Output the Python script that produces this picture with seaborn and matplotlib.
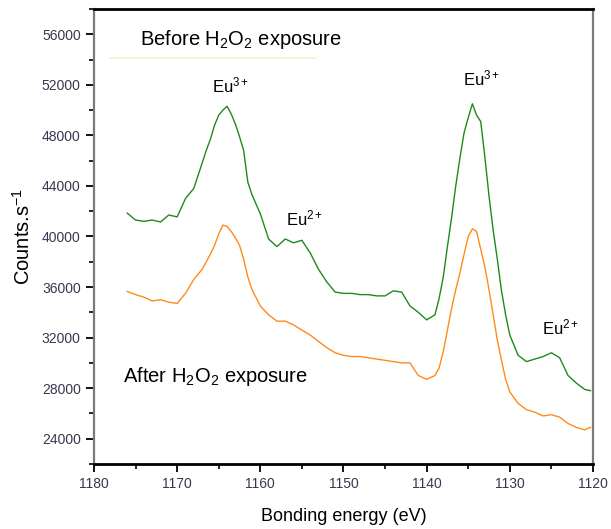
import numpy as np
import pandas as pd
import seaborn as sns
import matplotlib.pyplot as plt
from matplotlib.ticker import MultipleLocator

energy = [1176, 1175, 1174, 1173, 1172, 1171, 1170, 1169, 1168, 1167,
          1166.5, 1166, 1165.5, 1165, 1164.5, 1164, 1163.5, 1163, 1162.5, 1162,
          1161.5, 1161, 1160, 1159, 1158, 1157, 1156, 1155, 1154, 1153,
          1152, 1151, 1150, 1149, 1148, 1147, 1146, 1145, 1144, 1143,
          1142, 1141, 1140, 1139, 1138.5, 1138, 1137.5, 1137, 1136.5, 1136,
          1135.5, 1135, 1134.5, 1134, 1133.5, 1133, 1132.5, 1132, 1131.5, 1131,
          1130.5, 1130, 1129, 1128, 1127, 1126, 1125, 1124, 1123, 1122,
          1121, 1120.3]

before = [41850, 41300, 41200, 41300, 41150, 41700, 41550, 43000, 43800, 45800,
          46800, 47700, 48800, 49600, 50000, 50300, 49700, 48900, 47900, 46800,
          44300, 43300, 41800, 39800, 39200, 39800, 39500, 39700, 38700, 37400,
          36400, 35600, 35500, 35500, 35400, 35400, 35300, 35300, 35700, 35600,
          34500, 34000, 33400, 33800, 35100, 36800, 39200, 41500, 44000, 46200,
          48200, 49400, 50500, 49600, 49100, 46300, 43200, 40500, 38200, 35700,
          33800, 32200, 30600, 30100, 30300, 30500, 30800, 30400, 29000, 28400,
          27900, 27800]

after = [35650, 35400, 35200, 34900, 35000, 34800, 34700, 35500, 36600, 37400,
         38000, 38600, 39300, 40200, 40900, 40800, 40400, 39900, 39300, 38200,
         36800, 35800, 34500, 33800, 33300, 33300, 33000, 32600, 32200, 31700,
         31200, 30800, 30600, 30500, 30500, 30400, 30300, 30200, 30100, 30000,
         30000, 29000, 28700, 29000, 29600, 30900, 32600, 34300, 35800, 37100,
         38600, 40000, 40600, 40400, 39000, 37600, 35800, 33800, 31800, 30200,
         28700, 27700, 26800, 26300, 26100, 25800, 25900, 25700, 25200, 24900,
         24700, 24900]

df = pd.concat([
    pd.DataFrame({"energy": energy, "counts": before, "sample": "before"}),
    pd.DataFrame({"energy": energy, "counts": after, "sample": "after"}),
])

plt.rcParams['font.family'] = ['Liberation Sans', 'DejaVu Sans']
plt.rcParams['mathtext.fontset'] = 'custom'
plt.rcParams['mathtext.rm'] = 'Liberation Sans'
plt.rcParams['mathtext.it'] = 'Liberation Sans'

fig = plt.figure(figsize=(6.11, 5.29), dpi=100)
ax = fig.add_axes([0.1538, 0.1229, 0.8167, 0.8601])

sns.lineplot(data=df, x="energy", y="counts", hue="sample",
             palette={"before": "#1e8a1e", "after": "#ff8a1c"},
             linewidth=1.0, legend=False, ax=ax)

ax.set_xlim(1180, 1120)
ax.set_ylim(22000, 58000)
ax.xaxis.set_major_locator(MultipleLocator(10))
ax.xaxis.set_minor_locator(MultipleLocator(5))
ax.yaxis.set_major_locator(MultipleLocator(4000))
ax.yaxis.set_minor_locator(MultipleLocator(2000))

tick_col = "#3d3550"
ax.tick_params(axis='both', which='major', direction='out', length=6, width=1.3,
               labelsize=10, labelcolor=tick_col, color='black')
ax.tick_params(axis='both', which='minor', direction='out', length=3.5, width=1.2,
               color='black')
ax.tick_params(top=False, right=False, which='both')

ax.spines['bottom'].set_color('black')
ax.spines['bottom'].set_linewidth(2)
ax.spines['top'].set_color('black')
ax.spines['top'].set_linewidth(2)
ax.spines['left'].set_color('#7a7a7a')
ax.spines['left'].set_linewidth(1.6)
ax.spines['right'].set_color('#7a7a7a')
ax.spines['right'].set_linewidth(1.6)

ax.set_xlabel("Bonding energy (eV)", fontsize=13, labelpad=12)
ax.set_ylabel("Counts.s$^{-1}$", fontsize=14.5, labelpad=6)

ax.text(1174.5, 55130, r"Before H$_2$O$_2$ exposure", fontsize=14.5, va='baseline')
ax.axhline(54140, xmin=0.032, xmax=0.445, color="#eef6d0", linewidth=1.2)
ax.text(1176.5, 28510, r"After H$_2$O$_2$ exposure", fontsize=14.5, va='baseline')

ax.text(1165.8, 51420, r"Eu$^{3+}$", fontsize=12, va='baseline')
ax.text(1156.9, 40910, r"Eu$^{2+}$", fontsize=12, va='baseline')
ax.text(1135.6, 51970, r"Eu$^{3+}$", fontsize=12, va='baseline')
ax.text(1126.1, 32220, r"Eu$^{2+}$", fontsize=12, va='baseline')

fig.savefig("out.png", dpi=100)
